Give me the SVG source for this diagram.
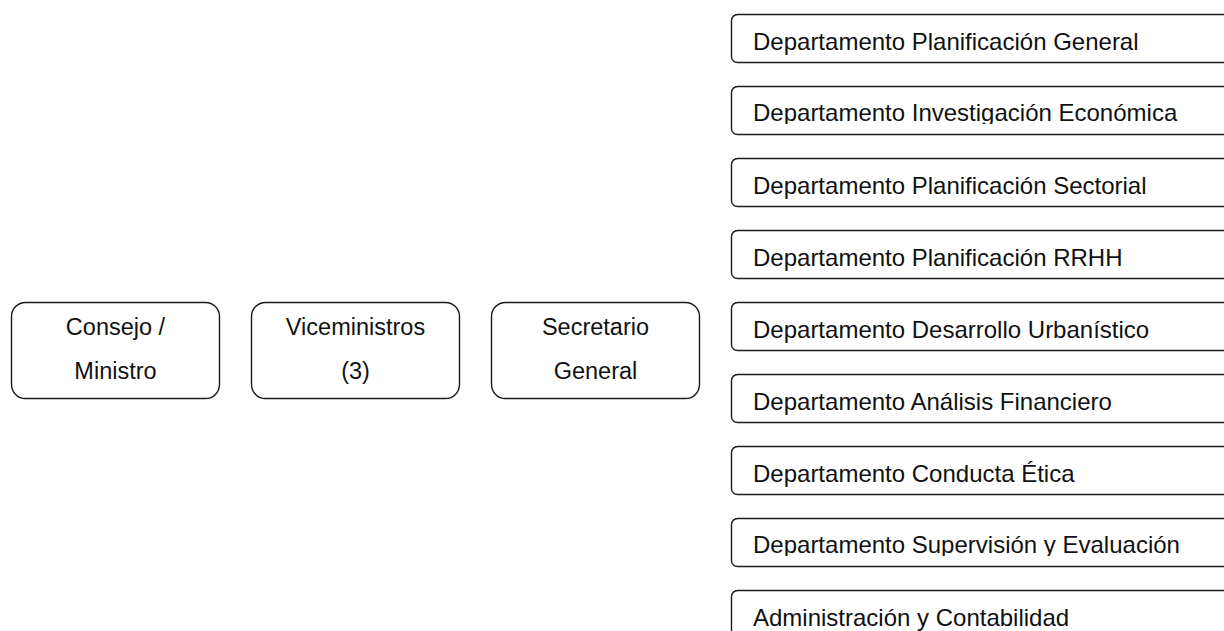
<svg xmlns="http://www.w3.org/2000/svg" width="1224" height="631" viewBox="0 0 1224 631">
  <style>
    .box { fill: #ffffff; stroke: #1a1a1a; stroke-width: 1.4; }
    .lbl { font-family: "Liberation Sans", Arial, sans-serif; font-size: 24px; fill: #111111; }
    .mid { text-anchor: middle; font-size: 23.5px; }
  </style>
  <defs>
    <clipPath id="clip-inv"><rect x="731" y="86" width="500" height="38"/></clipPath>
    <clipPath id="clip-sup"><rect x="731" y="518" width="500" height="38"/></clipPath>
  </defs>
  <rect width="1224" height="631" fill="#ffffff"/>

  <!-- top-level chain -->
  <g id="consejo-ministro">
    <rect class="box" x="11.5" y="302.5" width="208" height="96" rx="14"/>
    <text class="lbl mid" x="115.5" y="335">Consejo /</text>
    <text class="lbl mid" x="115.5" y="379">Ministro</text>
  </g>
  <g id="viceministros">
    <rect class="box" x="251.5" y="302.5" width="208" height="96" rx="14"/>
    <text class="lbl mid" x="355.5" y="335">Viceministros</text>
    <text class="lbl mid" x="355.5" y="379">(3)</text>
  </g>
  <g id="secretario-general">
    <rect class="box" x="491.5" y="302.5" width="208" height="96" rx="14"/>
    <text class="lbl mid" x="595.5" y="335">Secretario</text>
    <text class="lbl mid" x="595.5" y="379">General</text>
  </g>

  <!-- departments -->
  <g id="dep-planificacion-general">
    <rect class="box" x="731.5" y="14.5" width="520" height="48" rx="6"/>
    <text class="lbl" x="753" y="50">Departamento Planificación General</text>
  </g>
  <g id="dep-investigacion-economica">
    <rect class="box" x="731.5" y="86.5" width="520" height="48" rx="6"/>
    <text class="lbl" x="753" y="121" clip-path="url(#clip-inv)">Departamento Investigación Económica</text>
  </g>
  <g id="dep-planificacion-sectorial">
    <rect class="box" x="731.5" y="158.5" width="520" height="48" rx="6"/>
    <text class="lbl" x="753" y="193.5">Departamento Planificación Sectorial</text>
  </g>
  <g id="dep-planificacion-rrhh">
    <rect class="box" x="731.5" y="230.5" width="520" height="48" rx="6"/>
    <text class="lbl" x="753" y="265.5">Departamento Planificación RRHH</text>
  </g>
  <g id="dep-desarrollo-urbanistico">
    <rect class="box" x="731.5" y="302.5" width="520" height="48" rx="6"/>
    <text class="lbl" x="753" y="337.5">Departamento Desarrollo Urbanístico</text>
  </g>
  <g id="dep-analisis-financiero">
    <rect class="box" x="731.5" y="374.5" width="520" height="48" rx="6"/>
    <text class="lbl" x="753" y="409.5">Departamento Análisis Financiero</text>
  </g>
  <g id="dep-conducta-etica">
    <rect class="box" x="731.5" y="446.5" width="520" height="48" rx="6"/>
    <text class="lbl" x="753" y="481.5">Departamento Conducta Ética</text>
  </g>
  <g id="dep-supervision-evaluacion">
    <rect class="box" x="731.5" y="518.5" width="520" height="48" rx="6"/>
    <text class="lbl" x="753" y="553" clip-path="url(#clip-sup)">Departamento Supervisión y Evaluación</text>
  </g>
  <g id="administracion-contabilidad">
    <rect class="box" x="731.5" y="590.5" width="520" height="48" rx="6"/>
    <text class="lbl" x="753" y="625.5">Administración y Contabilidad</text>
  </g>

  <g id="connectors"></g>
</svg>
